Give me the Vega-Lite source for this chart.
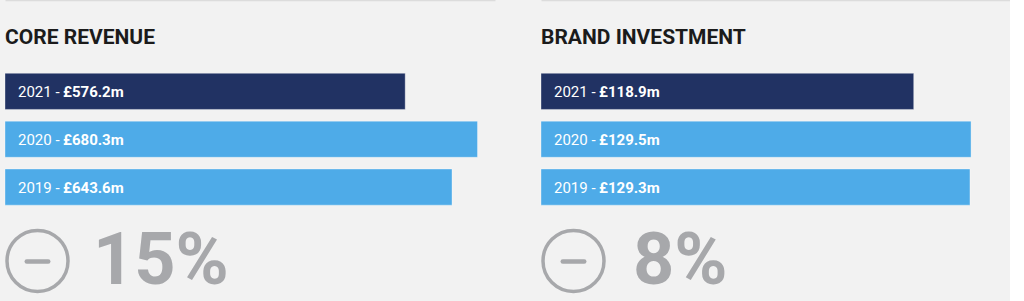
{
  "$schema": "https://vega.github.io/schema/vega-lite/v6.json",
  "background": "#f2f2f2",
  "padding": {"left": 0, "right": 0, "top": 0, "bottom": 0},
  "spacing": 41,
  "resolve": {"scale": {"x": "independent", "y": "independent", "color": "independent"}},
  "config": {
    "view": {"stroke": null},
    "font": "Roboto",
    "title": {"font": "Roboto", "fontSize": 21, "fontWeight": "bold", "color": "#1b1b1b", "anchor": "start", "frame": "group", "baseline": "alphabetic", "offset": 0, "dy": 52}
  },
  "datasets": {
    "revenue": [
      {"year": "2021", "tag": "2021 -", "value": 576.2, "amount": "£576.2m"},
      {"year": "2020", "tag": "2020 -", "value": 680.3, "amount": "£680.3m"},
      {"year": "2019", "tag": "2019 -", "value": 643.6, "amount": "£643.6m"}
    ],
    "brand": [
      {"year": "2021", "tag": "2021 -", "value": 118.9, "amount": "£118.9m"},
      {"year": "2020", "tag": "2020 -", "value": 129.5, "amount": "£129.5m"},
      {"year": "2019", "tag": "2019 -", "value": 129.3, "amount": "£129.3m"}
    ]
  },
  "hconcat": [
    {
      "width": 490,
      "height": 301,
      "title": {"text": "CORE REVENUE"},
      "data": {"name": "revenue"},
      "encoding": {
        "y": {"field": "year", "type": "nominal", "scale": {"domain": ["2021", "2020", "2019", "change"], "range": [73.3, 253], "paddingInner": 0.245, "paddingOuter": 0}, "axis": null}
      },
      "layer": [
        {
          "mark": {"type": "bar", "stroke": "#ffffff", "strokeOpacity": 0.35, "strokeWidth": 1},
          "encoding": {
            "x": {"field": "value", "type": "quantitative", "scale": {"domain": [0, 705.5], "nice": false, "zero": false, "clamp": true}, "axis": {"orient": "top", "domain": true, "domainColor": "#dcdcdc", "domainWidth": 1.5, "ticks": false, "labels": false, "grid": false, "title": null}},
            "color": {"field": "year", "type": "nominal", "scale": {"domain": ["2021", "2020", "2019"], "range": ["#213263", "#4eabe8", "#4eabe8"]}, "legend": null}
          }
        },
        {
          "mark": {"type": "text", "align": "left", "baseline": "alphabetic", "dx": 13, "dy": 6, "fontSize": 15, "color": "#ffffff"},
          "encoding": {"x": {"datum": 0, "type": "quantitative"}, "text": {"field": "tag"}}
        },
        {
          "mark": {"type": "text", "align": "left", "baseline": "alphabetic", "dx": 58, "dy": 6, "fontSize": 15, "fontWeight": "bold", "color": "#ffffff"},
          "encoding": {"x": {"datum": 0, "type": "quantitative"}, "text": {"field": "amount"}}
        },
        {
          "data": {"values": [{"change": "15%", "direction": "down"}]},
          "layer": [
            {
              "mark": {"type": "point", "shape": "circle", "size": 3721, "filled": false, "stroke": "#a7a8ab", "strokeWidth": 3.5, "opacity": 1, "xOffset": 32.5, "yOffset": 26},
              "encoding": {"x": {"datum": 0, "type": "quantitative"}, "y": {"datum": "change"}}
            },
            {
              "mark": {"type": "point", "shape": "stroke", "size": 462, "filled": false, "stroke": "#a7a8ab", "strokeWidth": 4.5, "strokeCap": "round", "opacity": 1, "xOffset": 32.5, "yOffset": 26.5},
              "encoding": {"x": {"datum": 0, "type": "quantitative"}, "y": {"datum": "change"}}
            },
            {
              "mark": {"type": "text", "align": "left", "baseline": "alphabetic", "dx": 88, "dy": 49, "fontSize": 72, "fontWeight": "bold", "color": "#a7a8ab"},
              "encoding": {"x": {"datum": 0, "type": "quantitative"}, "y": {"datum": "change"}, "text": {"field": "change"}}
            }
          ]
        }
      ]
    },
    {
      "width": 469,
      "height": 301,
      "title": {"text": "BRAND INVESTMENT"},
      "data": {"name": "brand"},
      "encoding": {
        "y": {"field": "year", "type": "nominal", "scale": {"domain": ["2021", "2020", "2019", "change"], "range": [73.3, 253], "paddingInner": 0.245, "paddingOuter": 0}, "axis": null}
      },
      "layer": [
        {
          "mark": {"type": "bar", "stroke": "#ffffff", "strokeOpacity": 0.35, "strokeWidth": 1},
          "encoding": {
            "x": {"field": "value", "type": "quantitative", "scale": {"domain": [50, 136.7], "nice": false, "zero": false, "clamp": true}, "axis": {"orient": "top", "domain": true, "domainColor": "#dcdcdc", "domainWidth": 1.5, "ticks": false, "labels": false, "grid": false, "title": null}},
            "color": {"field": "year", "type": "nominal", "scale": {"domain": ["2021", "2020", "2019"], "range": ["#213263", "#4eabe8", "#4eabe8"]}, "legend": null}
          }
        },
        {
          "mark": {"type": "text", "align": "left", "baseline": "alphabetic", "dx": 13, "dy": 6, "fontSize": 15, "color": "#ffffff"},
          "encoding": {"x": {"datum": 50, "type": "quantitative"}, "text": {"field": "tag"}}
        },
        {
          "mark": {"type": "text", "align": "left", "baseline": "alphabetic", "dx": 58, "dy": 6, "fontSize": 15, "fontWeight": "bold", "color": "#ffffff"},
          "encoding": {"x": {"datum": 50, "type": "quantitative"}, "text": {"field": "amount"}}
        },
        {
          "data": {"values": [{"change": "8%", "direction": "down"}]},
          "layer": [
            {
              "mark": {"type": "point", "shape": "circle", "size": 3721, "filled": false, "stroke": "#a7a8ab", "strokeWidth": 3.5, "opacity": 1, "xOffset": 32.5, "yOffset": 26},
              "encoding": {"x": {"datum": 50, "type": "quantitative"}, "y": {"datum": "change"}}
            },
            {
              "mark": {"type": "point", "shape": "stroke", "size": 462, "filled": false, "stroke": "#a7a8ab", "strokeWidth": 4.5, "strokeCap": "round", "opacity": 1, "xOffset": 32.5, "yOffset": 26.5},
              "encoding": {"x": {"datum": 50, "type": "quantitative"}, "y": {"datum": "change"}}
            },
            {
              "mark": {"type": "text", "align": "left", "baseline": "alphabetic", "dx": 92, "dy": 49, "fontSize": 72, "fontWeight": "bold", "color": "#a7a8ab"},
              "encoding": {"x": {"datum": 50, "type": "quantitative"}, "y": {"datum": "change"}, "text": {"field": "change"}}
            }
          ]
        }
      ]
    }
  ]
}
